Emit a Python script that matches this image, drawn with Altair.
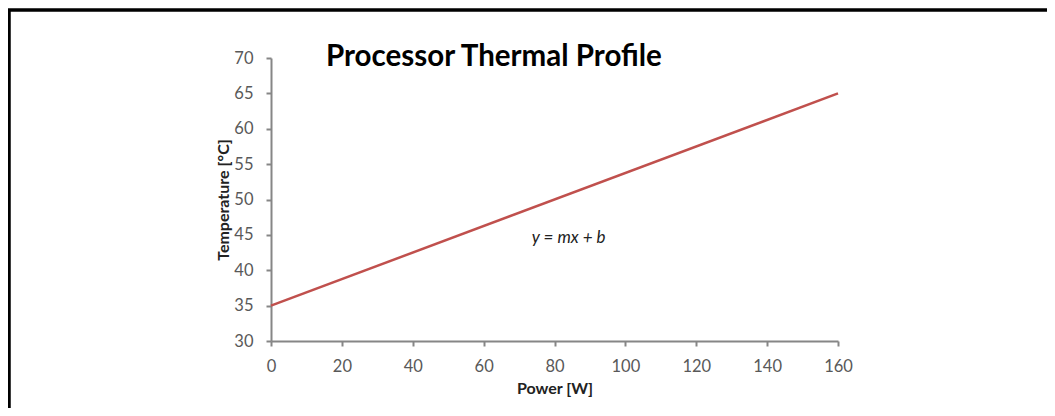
import altair as alt
import pandas as pd

# Data
power_w = [0, 160]
temperature_c = [35, 65]
x_ticks = [0, 20, 40, 60, 80, 100, 120, 140, 160]
y_ticks = [30, 35, 40, 45, 50, 55, 60, 65, 70]
annotation_text = ["y = mx + b"]
annotation_x = [84]
annotation_y = [44.6]

line_df = pd.DataFrame({"power": power_w, "temp": temperature_c})
ann_df = pd.DataFrame({"label": annotation_text, "power": annotation_x, "temp": annotation_y})

FONT = "Lato"

x_enc = alt.X("power:Q", title="Power [W]",
              scale=alt.Scale(domain=[0, 160], nice=False),
              axis=alt.Axis(values=x_ticks, format="d", labelOverlap=False, labelFlush=False))
y_enc = alt.Y("temp:Q", title="Temperature [°C]",
              scale=alt.Scale(domain=[30, 70], nice=False, zero=False),
              axis=alt.Axis(values=y_ticks, format="d", labelOverlap=False, labelFlush=False,
                            tickCount=9))

line = alt.Chart(line_df).mark_line(color="#C0504D", strokeWidth=2.5).encode(x=x_enc, y=y_enc)

ann = alt.Chart(ann_df).mark_text(font=FONT, fontSize=17, fontStyle="italic",
                                  color="#222222", align="center", baseline="middle").encode(
    x=x_enc, y=y_enc, text="label:N")

border_top = alt.Chart(line_df).mark_rule(color="black", strokeWidth=3).encode(
    x=alt.value(-263), x2=alt.value(800), y=alt.value(-48))
border_left = alt.Chart(line_df).mark_rule(color="black", strokeWidth=3).encode(
    x=alt.value(-262), y=alt.value(-49), y2=alt.value(360))

chart = alt.layer(border_top, border_left, line, ann).properties(
    width=567,
    height=283,
    title=alt.TitleParams("Processor Thermal Profile", anchor="start", frame="group",
                          dx=55, dy=69,
                          font=FONT, fontSize=29.5, fontWeight="bold", color="black"),
    autosize=alt.AutoSizeParams(type="none"),
    padding={"left": 263, "top": 50, "right": 209, "bottom": 67},
).configure_view(stroke=None).configure_axis(
    grid=False,
    domainColor="#868686",
    domainWidth=2,
    tickColor="#868686",
    tickWidth=2,
    tickSize=5,
    labelColor="#595959",
    labelFont=FONT,
    labelFontSize=16.5,
    labelOverlap=False,
    titleFont=FONT,
    titleFontSize=16,
    titleFontWeight="bold",
    titleColor="#222222",
).configure_axisX(titlePadding=6, labelPadding=12).configure_axisY(titlePadding=2, labelPadding=13)

chart.save("out.html", embed_options={"renderer": "svg", "actions": False})
